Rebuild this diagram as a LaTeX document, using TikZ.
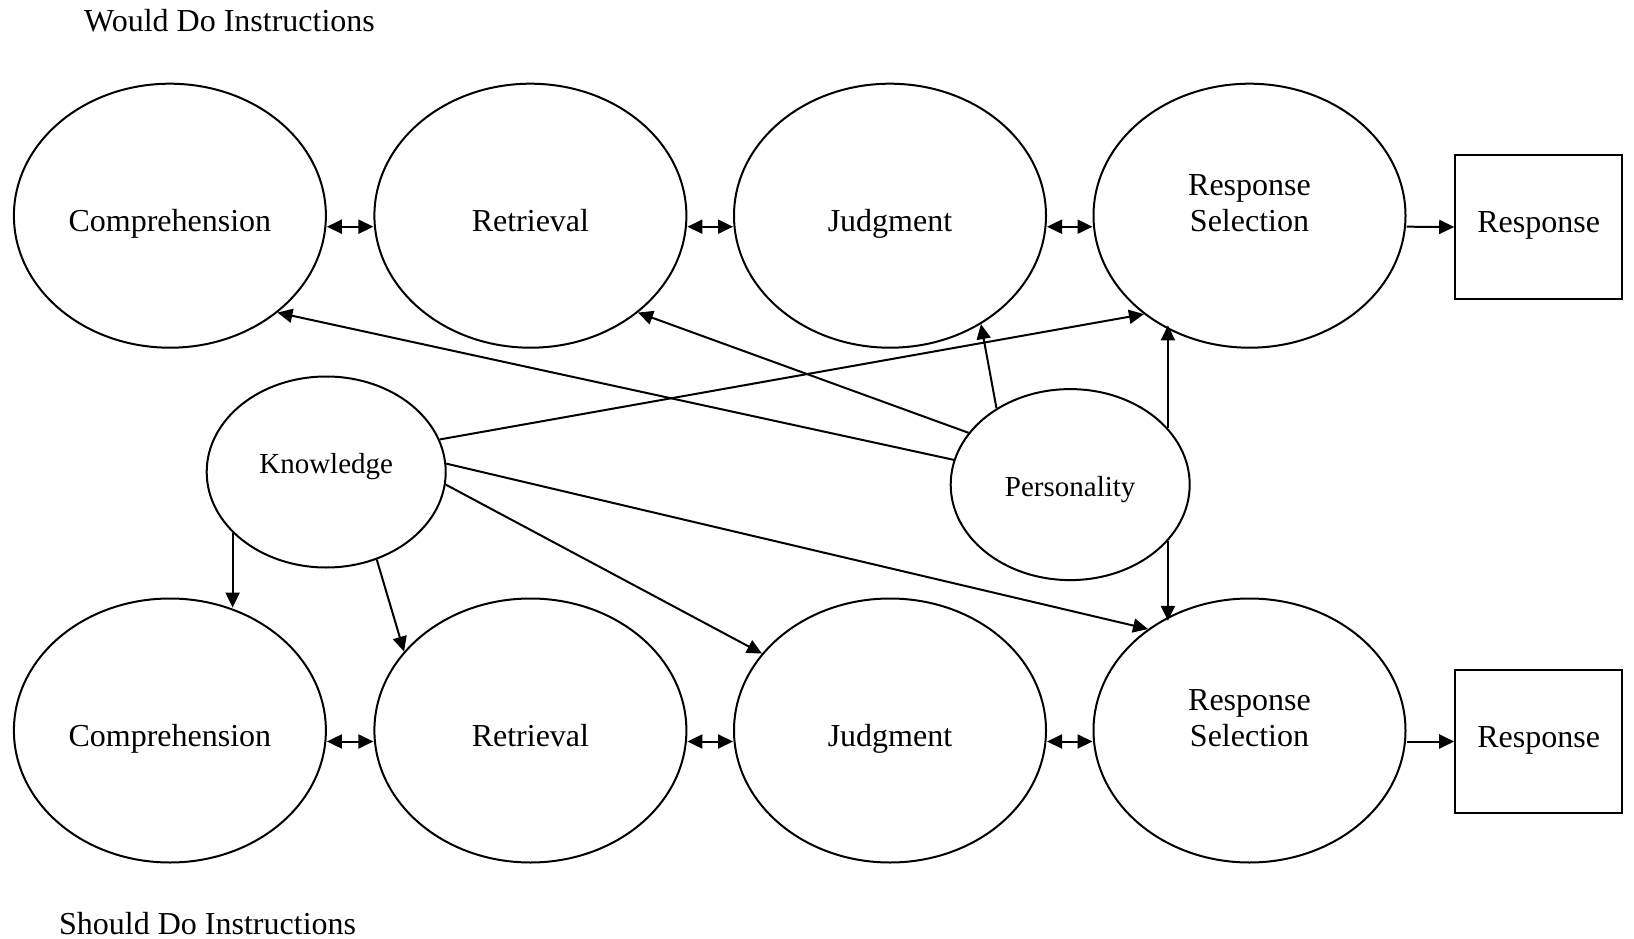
\documentclass[tikz,border=0pt]{standalone}
\usepackage{fontspec}
\setmainfont{Liberation Serif}
\usetikzlibrary{arrows.meta,shapes.geometric,calc}
\newcommand\lowtext[2]{\raisebox{-#1}[0pt][0pt]{#2}}
\begin{document}
\begin{tikzpicture}[x=1pt,y=-1pt,
  every node/.style={font=\fontsize{32}{36.5}\selectfont},
  proc/.style={ellipse, draw, line width=2pt, minimum width=312pt, minimum height=264pt, inner sep=0pt},
  infl/.style={ellipse, draw, line width=2pt, minimum width=239pt, minimum height=191pt, inner sep=0pt, font=\fontsize{29}{34}\selectfont},
  resp/.style={rectangle, draw, line width=2pt, minimum width=167pt, minimum height=143pt, inner sep=0pt},
  title/.style={anchor=base west, inner sep=0pt},
  arr/.style={-{Triangle[length=15pt,width=14pt]}, line width=2pt},
  darr/.style={{Triangle[length=15pt,width=14pt]}-{Triangle[length=15pt,width=14pt]}, line width=2pt}
]
\useasboundingbox (0,0) rectangle (1634,939);

\node[title] (t1) at (84,31.7) {Would Do Instructions};
\node[title] (t2) at (59,934) {Should Do Instructions};

% top row
\node[proc] (c1) at (169.9,215.7) {\lowtext{16pt}{Comprehension}};
\node[proc] (r1) at (530.4,215.7) {\lowtext{16pt}{Retrieval}};
\node[proc] (j1) at (890,215.7) {\lowtext{16pt}{Judgment}};
\node[proc] (s1) at (1249.5,215.7) {\lowtext{16pt}{\begin{tabular}[b]{@{}c@{}}Response\\Selection\end{tabular}}};
\node[resp] (o1) at (1538.7,227) {\lowtext{5.7pt}{Response}};

% bottom row
\node[proc] (c2) at (169.9,730.5) {\lowtext{16pt}{Comprehension}};
\node[proc] (r2) at (530.4,730.5) {\lowtext{16pt}{Retrieval}};
\node[proc] (j2) at (890,730.5) {\lowtext{16pt}{Judgment}};
\node[proc] (s2) at (1249.5,730.5) {\lowtext{16pt}{\begin{tabular}[b]{@{}c@{}}Response\\Selection\end{tabular}}};
\node[resp] (o2) at (1538.7,741.5) {\lowtext{5.7pt}{Response}};

% influences
\node[infl] (kn) at (326.2,472) {\lowtext{1.3pt}{Knowledge}};
\node[infl] (pe) at (1070.2,484.6) {\lowtext{11.4pt}{Personality}};

% row connectors
\draw[darr] ($(c1.east)+(0,11)$) -- ($(r1.west)+(0,11)$);
\draw[darr] ($(r1.east)+(0,11)$) -- ($(j1.west)+(0,11)$);
\draw[darr] ($(j1.east)+(0,11)$) -- ($(s1.west)+(0,11)$);
\draw[arr] ($(s1.east)+(0,11)$) -- (o1.west);
\draw[darr] ($(c2.east)+(0,11)$) -- ($(r2.west)+(0,11)$);
\draw[darr] ($(r2.east)+(0,11)$) -- ($(j2.west)+(0,11)$);
\draw[darr] ($(j2.east)+(0,11)$) -- ($(s2.west)+(0,11)$);
\draw[arr] ($(s2.east)+(0,11)$) -- (o2.west);

% knowledge
\draw[arr] (kn.16.5) -- (s1.223.8);
\draw[arr] (kn.4.9) -- (s2.135.9);
\draw[arr] (kn.-6.5) -- (j2.149);
\draw[arr] (kn.-60.2) -- (r2.148.8);
\draw[arr] (kn.-147.8) -- (kn.-147.8 |- c2.64.4);

% personality
\draw[arr] (pe.168.2) -- (c1.-42.8);
\draw[arr] (pe.153.1) -- (r1.-42.7);
\draw[arr] (pe.134.6) -- (j1.-50.2);
\draw[arr] (pe.30.8) -- (pe.30.8 |- s1.231.3);
\draw[arr] (pe.-30.8) -- (pe.-30.8 |- s2.129.2);
\end{tikzpicture}
\end{document}
